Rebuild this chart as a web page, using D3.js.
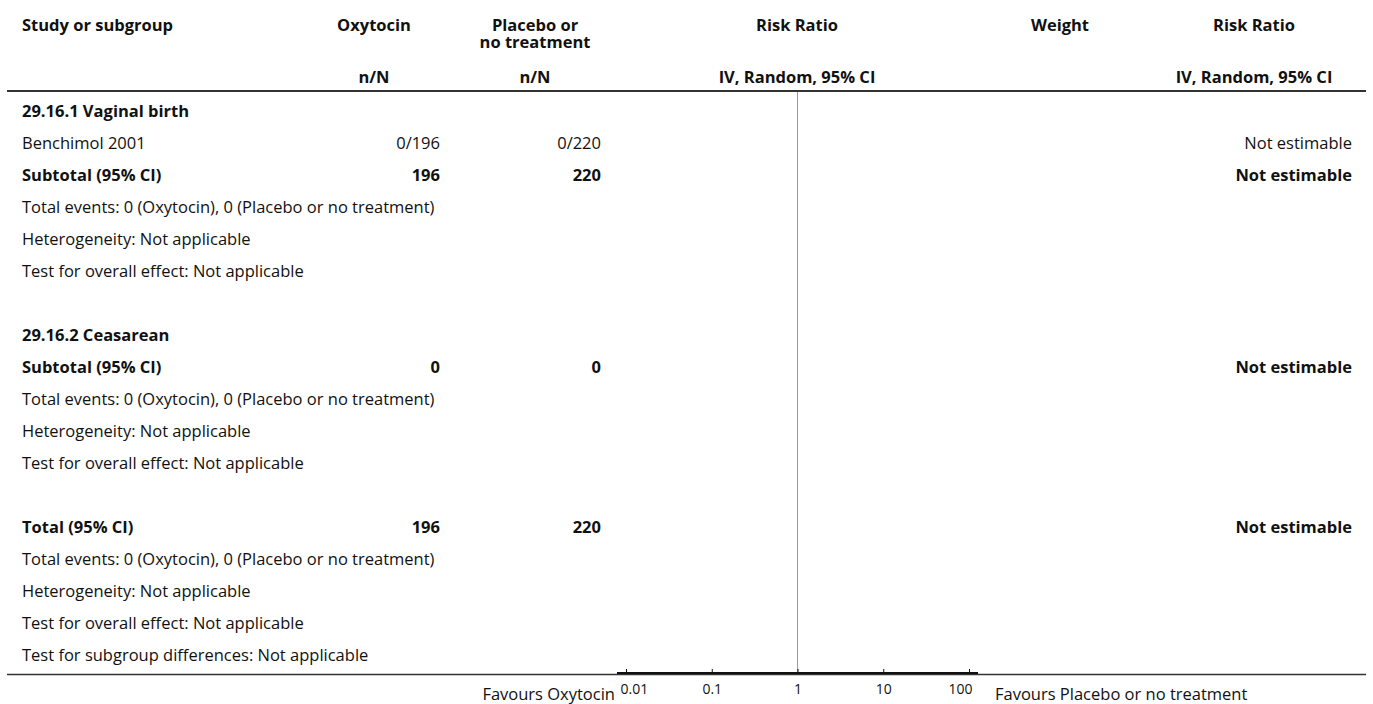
<!DOCTYPE html>
<html><head><meta charset="utf-8">
<script src="https://cdn.jsdelivr.net/npm/d3@7"></script>
<style>
body{margin:0;background:#fff}
text{font-family:"Open Sans","Noto Sans",sans-serif;fill:#111}
</style></head>
<body><svg id="chart" width="1373" height="704"></svg>
<script>
const rowLabels = [
  "29.16.1 Vaginal birth",
  "Benchimol 2001",
  "Subtotal (95% CI)",
  "Total events: 0 (Oxytocin), 0 (Placebo or no treatment)",
  "Heterogeneity: Not applicable",
  "Test for overall effect: Not applicable",
  "",
  "29.16.2 Ceasarean",
  "Subtotal (95% CI)",
  "Total events: 0 (Oxytocin), 0 (Placebo or no treatment)",
  "Heterogeneity: Not applicable",
  "Test for overall effect: Not applicable",
  "",
  "Total (95% CI)",
  "Total events: 0 (Oxytocin), 0 (Placebo or no treatment)",
  "Heterogeneity: Not applicable",
  "Test for overall effect: Not applicable",
  "Test for subgroup differences: Not applicable"
];
const rowBold = [1,0,1,0,0,0,0,1,1,0,0,0,0,1,0,0,0,0];
const oxytocinValues = ["","0/196","196","","","","","","0","","","","","196","","","",""];
const placeboValues  = ["","0/220","220","","","","","","0","","","","","220","","","",""];
const riskRatioValues = ["","Not estimable","Not estimable","","","","","","Not estimable","","","","","Not estimable","","","",""];
const tickValues = [0.01, 0.1, 1, 10, 100];
const tickLabels = ["0.01", "0.1", "1", "10", "100"];
const favoursLabels = ["Favours Oxytocin", "Favours Placebo or no treatment"];
const headerTop = ["Study or subgroup", "Oxytocin", "Placebo or|no treatment", "Risk Ratio", "Weight", "Risk Ratio"];
const headerSub = ["", "n/N", "n/N", "IV, Random, 95% CI", "", "IV, Random, 95% CI"];

const svg = d3.select("#chart");
const FS = 16.5;

const y = d3.scaleLinear().domain([0, rowLabels.length - 1]).range([111, 655]);
const x = d3.scaleLog().domain([0.01, 100]).range([626, 969]);

const headCols = [[22, "start"], [374, "middle"], [535, "middle"], [797, "middle"], [1060, "middle"], [1254, "middle"]];
headerTop.forEach((t, i) => {
  const txt = svg.append("text").attr("y", 25)
    .attr("text-anchor", headCols[i][1]).attr("font-weight", "bold").attr("font-size", FS);
  t.split("|").forEach((ln, j) => {
    txt.append("tspan").attr("x", headCols[i][0]).attr("y", 25 + j * 17).attr("dy", "0.35em").text(ln);
  });
});
headerSub.forEach((t, i) => {
  if (!t) return;
  svg.append("text").attr("x", headCols[i][0]).attr("y", 77).attr("dy", "0.35em")
    .attr("text-anchor", headCols[i][1]).attr("font-weight", "bold").attr("font-size", FS).text(t);
});

svg.append("line").attr("x1", 7).attr("x2", 1366).attr("y1", 91).attr("y2", 91)
  .attr("stroke", "#333").attr("stroke-width", 2);

svg.append("line").attr("x1", x(1)).attr("x2", x(1)).attr("y1", 92).attr("y2", 673)
  .attr("stroke", "#999").attr("stroke-width", 1);

const rows = svg.append("g").selectAll("g").data(rowLabels).join("g")
  .attr("transform", (d, i) => `translate(0,${y(i)})`)
  .attr("font-size", FS)
  .attr("font-weight", (d, i) => rowBold[i] ? "bold" : "normal");
rows.append("text").attr("x", 22).attr("dy", "0.35em").text(d => d);
rows.append("text").attr("x", 440).attr("dy", "0.35em").attr("text-anchor", "end").text((d, i) => oxytocinValues[i]);
rows.append("text").attr("x", 601).attr("dy", "0.35em").attr("text-anchor", "end").text((d, i) => placeboValues[i]);
rows.append("text").attr("x", 1352).attr("dy", "0.35em").attr("text-anchor", "end").text((d, i) => riskRatioValues[i]);

svg.append("line").attr("x1", 7).attr("x2", 1366).attr("y1", 674.5).attr("y2", 674.5)
  .attr("stroke", "#333").attr("stroke-width", 1.5);

const axis = d3.axisBottom(x).tickValues(tickValues).tickFormat((d, i) => tickLabels[i])
  .tickSizeInner(-4).tickSizeOuter(0).tickPadding(11);
const ag = svg.append("g").attr("transform", "translate(0,673)").call(axis);
ag.select(".domain").remove();
ag.insert("line", ":first-child").attr("x1", x(0.01) - 9).attr("x2", x(100) + 9)
  .attr("stroke", "#111").attr("stroke-width", 2);
ag.selectAll(".tick line").attr("stroke", "#111");
const n = tickValues.length;
ag.selectAll(".tick text").attr("font-size", 14).attr("fill", "#111")
  .attr("text-anchor", (d, i) => i === 0 ? "start" : i === n - 1 ? "end" : "middle")
  .attr("x", (d, i) => i === 0 ? -6 : i === n - 1 ? 3 : 0);

svg.append("text").attr("x", 615).attr("y", 694).attr("dy", "0.35em").attr("text-anchor", "end")
  .attr("font-size", FS).text(favoursLabels[0]);
svg.append("text").attr("x", 995).attr("y", 694).attr("dy", "0.35em").attr("text-anchor", "start")
  .attr("font-size", FS).text(favoursLabels[1]);
</script></body></html>
